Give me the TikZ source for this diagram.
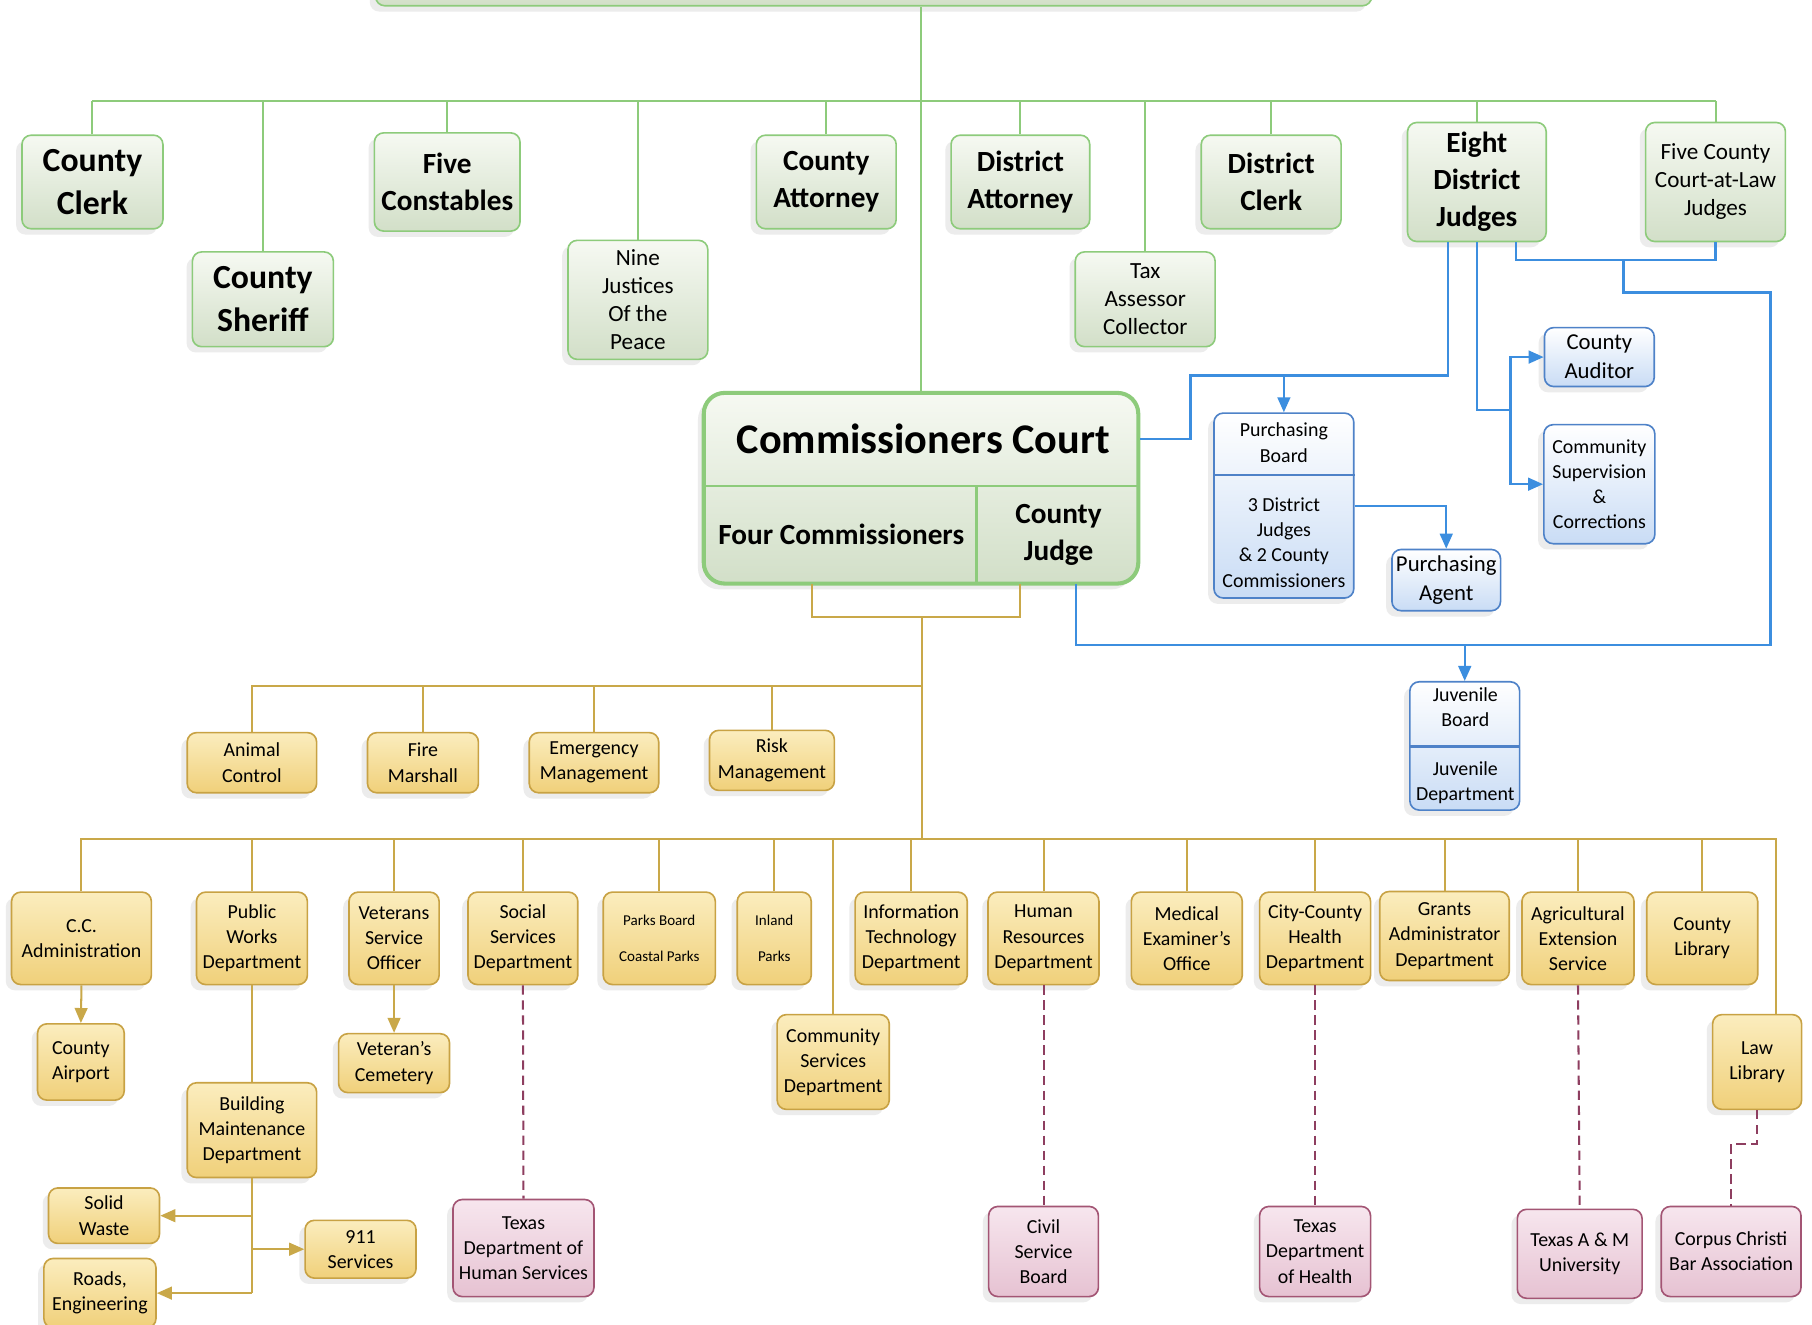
\documentclass[tikz,border=0pt]{standalone}
\usepackage{fontspec}
\setmainfont{Carlito}
\usepackage{xcolor}
\usepackage{tikz}
\usetikzlibrary{calc,arrows.meta,shadows}

\definecolor{cgline}{HTML}{8DCB7B}
\definecolor{cgtop}{HTML}{F6F9F2}
\definecolor{cgbot}{HTML}{D2DFC8}
\definecolor{cblue}{HTML}{3C8EDF}
\definecolor{cbedge}{HTML}{4E82C8}
\definecolor{cbbot}{HTML}{C9DCF5}
\definecolor{cgold}{HTML}{C9A849}
\definecolor{cytop}{HTML}{FBEDBE}
\definecolor{cybot}{HTML}{F0D07A}
\definecolor{cyedge}{HTML}{C8A244}
\definecolor{cmauve}{HTML}{8E3E60}
\definecolor{cptop}{HTML}{F7E6EE}
\definecolor{cpbot}{HTML}{E6C2D2}
\definecolor{cpedge}{HTML}{A35574}

\newcommand\ftitle{\fontsize{10.4}{12.5}\selectfont\bfseries}
\newcommand\fgbig{\fontsize{8.3}{10.5}\selectfont\bfseries}
\newcommand\fgmid{\fontsize{7.2}{9.1}\selectfont\bfseries}
\newcommand\fgsmall{\fontsize{5.7}{6.9}\selectfont}
\newcommand\fdept{\fontsize{4.9}{6.2}\selectfont}
\newcommand\fagent{\fontsize{5.6}{7.1}\selectfont}
\newcommand\ftiny{\fontsize{3.7}{9.1}\selectfont}

\begin{document}
\begin{tikzpicture}[x=0.1mm, y=-0.1mm,
  box/.style={rounded corners=0.8mm, align=center, inner sep=0.3mm, line width=0.4pt,
    drop shadow={shadow xshift=-0.5mm, shadow yshift=-0.5mm, opacity=0.15}},
  gbox/.style={box, draw=cgline, top color=cgtop, bottom color=cgbot, font=\fgmid},
  bbox/.style={box, draw=cbedge, top color=white, bottom color=cbbot, font=\fdept},
  ybox/.style={box, draw=cyedge, top color=cytop, bottom color=cybot, font=\fdept},
  pbox/.style={box, draw=cpedge, top color=cptop, bottom color=cpbot, font=\fdept},
  gline/.style={draw=cgline, line width=0.5pt},
  bline/.style={draw=cblue, line width=0.6pt},
  barrow/.style={bline, -{Triangle[length=1.3mm, width=1.1mm]}},
  yline/.style={draw=cgold, line width=0.5pt},
  yarrow/.style={yline, -{Triangle[length=1.3mm, width=1.1mm]}},
  pline/.style={draw=cmauve, line width=0.5pt, dash pattern=on 0.8mm off 0.5mm}]
  \path[use as bounding box, clip] (0,0) rectangle (1568,1146);
  \fill[white] (0,0) rectangle (1568,1146);

  \node[gbox, minimum width=86.2mm, minimum height=7mm] (topbox) at (756,-30) {};

  \node[gbox, font=\fgbig, minimum width=12.2mm, minimum height=8.1mm] (cclerk) at (80,157.5) {County\\Clerk};
  \node[gbox, font=\fgbig, minimum width=12.2mm, minimum height=8.2mm] (sheriff) at (227.5,259) {County\\Sheriff};
  \node[gbox, minimum width=12.6mm, minimum height=8.5mm] (constables) at (387,157.5) {Five\\Constables};
  \node[gbox, font=\fgsmall, minimum width=12.1mm, minimum height=10.3mm] (justices) at (552,259.5) {Nine\\Justices\\Of the\\Peace};
  \node[gbox, minimum width=12.1mm, minimum height=8.1mm] (cattorney) at (715,157.5) {County\\Attorney};
  \node[gbox, minimum width=12.0mm, minimum height=8.1mm] (dattorney) at (883,157.5) {District\\Attorney};
  \node[gbox, font=\fgsmall, minimum width=12.1mm, minimum height=8.2mm] (taxac) at (991,259) {Tax\\Assessor\\Collector};
  \node[gbox, minimum width=12.1mm, minimum height=8.1mm] (dclerk) at (1100,157.5) {District\\Clerk};
  \node[gbox, minimum width=12.0mm, minimum height=10.3mm] (djudges) at (1278,157.5) {Eight\\District\\Judges};
  \node[gbox, font=\fgsmall, minimum width=12.1mm, minimum height=10.3mm] (cljudges) at (1484.5,157.5) {Five County\\Court-at-Law\\Judges};

  \node[gbox, rounded corners=1.8mm, line width=1pt, minimum width=37.6mm, minimum height=16.5mm] (court) at (797,422.5) {};
  \node[font=\ftitle] (cctitle) at (799,380) {Commissioners Court};
  \draw[cgline, line width=0.6pt] (court.west |- 0,420.5) -- (court.east |- 0,420.5);
  \draw[cgline, line width=0.6pt] (845,420.5) -- (845,505);
  \node[font=\fgmid, minimum width=23.4mm, minimum height=8.4mm] (fourcom) at (728,462.5) {Four Commissioners};
  \node[font=\fgmid, align=center, minimum width=14.2mm, minimum height=8.4mm] (cjudge) at (916,462.5) {County\\Judge};

  \node[bbox, minimum width=12.1mm, minimum height=16mm] (pboard) at (1111,437.5) {};
  \draw[cbedge, line width=0.6pt] (pboard.west |- 0,411) -- (pboard.east |- 0,411);
  \node[font=\fdept, align=center] (pbtitle) at (1111,383) {Purchasing\\Board};
  \node[font=\fdept, align=center] (pbmembers) at (1111,469.5) {3 District\\Judges\\\& 2 County\\Commissioners};
  \node[bbox, font=\fagent, minimum width=9.4mm, minimum height=5.3mm] (pagent) at (1251.5,502) {Purchasing\\Agent};
  \node[bbox, font=\fagent, minimum width=9.5mm, minimum height=5.1mm] (auditor) at (1384,309) {County\\Auditor};
  \node[bbox, minimum width=9.6mm, minimum height=10.3mm] (csc) at (1384,419) {Community\\Supervision\\\&\\Corrections};
  \node[bbox, minimum width=9.5mm, minimum height=11.1mm] (jboard) at (1267.5,645.5) {};
  \draw[cbedge, line width=0.6pt] (jboard.west |- 0,646) -- (jboard.east |- 0,646);
  \node[font=\fdept, align=center] (jbtitle) at (1268,612) {Juvenile\\Board};
  \node[font=\fdept, align=center] (jdept) at (1268,677.5) {Juvenile\\Department};

  \node[ybox, minimum width=11.2mm, minimum height=5.2mm] (animal) at (218,660) {Animal\\Control};
  \node[ybox, minimum width=9.6mm, minimum height=5.2mm] (fire) at (366,660) {Fire\\Marshall};
  \node[ybox, minimum width=11.2mm, minimum height=5.2mm] (emerg) at (514,660) {Emergency\\Management};
  \node[ybox, minimum width=10.8mm, minimum height=5.2mm] (risk) at (668,658) {Risk\\Management};

  \node[ybox, minimum width=12.1mm, minimum height=8mm] (ccadmin) at (70.5,812) {C.C.\\Administration};
  \node[ybox, minimum width=9.6mm, minimum height=8mm] (pworks) at (218,812) {Public\\Works\\Department};
  \node[ybox, minimum width=7.8mm, minimum height=8mm] (veterans) at (341,812) {Veterans\\Service\\Officer};
  \node[ybox, minimum width=9.5mm, minimum height=8mm] (social) at (452.5,812) {Social\\Services\\Department};
  \node[ybox, font=\ftiny, minimum width=9.7mm, minimum height=8mm] (parks) at (570.5,812) {Parks Board\\Coastal Parks};
  \node[ybox, font=\ftiny, minimum width=6.4mm, minimum height=8mm] (inland) at (670,812) {Inland\\Parks};
  \node[ybox, minimum width=9.7mm, minimum height=8mm] (infotech) at (788.5,812) {Information\\Technology\\Department};
  \node[ybox, minimum width=9.6mm, minimum height=8mm] (hr) at (903,812) {Human\\Resources\\Department};
  \node[ybox, minimum width=9.6mm, minimum height=8mm] (medical) at (1027,812) {Medical\\Examiner's\\Office};
  \node[ybox, minimum width=9.6mm, minimum height=8mm] (health) at (1138,812) {City-County\\Health\\Department};
  \node[ybox, minimum width=11.2mm, minimum height=7.7mm] (grants) at (1250,810) {Grants\\Administrator\\Department};
  \node[ybox, minimum width=9.7mm, minimum height=8mm] (agri) at (1365.5,812) {Agricultural\\Extension\\Service};
  \node[ybox, minimum width=9.6mm, minimum height=8mm] (library) at (1473,812) {County\\Library};

  \node[ybox, minimum width=9.7mm, minimum height=8.2mm] (comserv) at (721,919) {Community\\Services\\Department};
  \node[ybox, minimum width=7.7mm, minimum height=8.2mm] (lawlib) at (1520.5,919) {Law\\Library};
  \node[ybox, minimum width=7.5mm, minimum height=6.6mm] (airport) at (70,919) {County\\Airport};
  \node[ybox, minimum width=9.6mm, minimum height=5.1mm] (cemetery) at (341,920) {Veteran's\\Cemetery};
  \node[ybox, minimum width=11.2mm, minimum height=8.2mm] (bmaint) at (218,978) {Building\\Maintenance\\Department};
  \node[ybox, minimum width=9.6mm, minimum height=4.8mm] (solid) at (90,1052) {Solid\\Waste};
  \node[ybox, minimum width=9.6mm, minimum height=5mm] (e911) at (312,1081) {911\\Services};
  \node[ybox, minimum width=9.7mm, minimum height=6mm] (roads) at (86.5,1119) {Roads,\\Engineering};

  \node[pbox, minimum width=12.2mm, minimum height=8.4mm] (txhhs) at (453,1080) {Texas\\Department of\\Human Services};
  \node[pbox, minimum width=9.5mm, minimum height=7.8mm] (civil) at (903,1083) {Civil\\Service\\Board};
  \node[pbox, minimum width=9.6mm, minimum height=7.8mm] (txhealth) at (1138,1083) {Texas\\Department\\of Health};
  \node[pbox, minimum width=10.8mm, minimum height=7.7mm] (tamu) at (1367,1085) {Texas A \& M\\University};
  \node[pbox, minimum width=12.1mm, minimum height=7.8mm] (ccbar) at (1498,1083) {Corpus Christi\\Bar Association};

  \coordinate (gbus) at (0,87.5);
  \draw[gline] (court.north) -- (court.north |- topbox.south);
  \draw[gline] (cclerk.north |- gbus) -- (cljudges.north |- gbus);
  \foreach \n in {cclerk,sheriff,constables,justices,cattorney,dattorney,taxac,dclerk,djudges,cljudges}
    \draw[gline] (\n.north) -- (\n.north |- gbus);

  \coordinate (pbtap) at ([xshift=-2.5mm]djudges.south);
  \coordinate (cltap) at ([xshift=3.4mm]djudges.south);
  \coordinate (cjout) at ([xshift=1.5mm]cjudge.south);
  \coordinate (jsplit) at (1307,355);
  \coordinate (jtap) at (1405,225);
  \coordinate (jbus) at (1532,558);
  \draw[bline] (court.east |- cctitle) -| (1030,325) -| (pbtap);
  \draw[barrow] (pboard.north |- 0,325) -- (pboard.north);
  \draw[barrow] (pboard.east |- 0,438) -| (pagent.north);
  \draw[bline] (djudges.south) |- (jsplit);
  \draw[barrow] (jsplit) |- (auditor.west);
  \draw[barrow] (jsplit) |- (csc.west);
  \draw[bline] (cltap) |- (cljudges.south |- jtap) -- (cljudges.south);
  \draw[bline] (jtap) |- (jbus |- 0,253) -- (jbus) -| (cjout);
  \draw[barrow] (jboard.north |- jbus) -- (jboard.north);

  \coordinate (fcout) at ([xshift=-2.5mm]fourcom.south);
  \coordinate (cjin) at ([xshift=-3.3mm]cjudge.south);
  \coordinate (ybus1) at (798,594);
  \coordinate (ybus2) at (798,726);
  \draw[yline] (fcout) -- ++(0,28.5) -| (cjin);
  \draw[yline] (798,533.5) -- (ybus2);
  \foreach \n in {animal,fire,emerg,risk}
    \draw[yline] (\n.north) |- (ybus1);
  \foreach \n in {ccadmin,pworks,veterans,social,parks,inland,comserv,infotech,hr,medical,health,grants,agri,library}
    \draw[yline] (\n.north) |- (ybus2);
  \draw[yline] ([xshift=1.65mm]lawlib.north) |- (ybus2);
  \draw[yarrow] (ccadmin.south) -- (airport.north);
  \draw[yarrow] (veterans.south) -- (cemetery.north);
  \draw[yline] (pworks.south) -- (bmaint.north);
  \draw[yline] (bmaint.south) -- (bmaint.south |- roads);
  \draw[yarrow] (bmaint.south |- solid) -- (solid.east);
  \draw[yarrow] (bmaint.south |- e911) -- (e911.west);
  \draw[yarrow] (bmaint.south |- roads) -- (roads.east);

  \draw[pline] (social.south) -- (txhhs.north);
  \draw[pline] (hr.south) -- (civil.north);
  \draw[pline] (health.south) -- (txhealth.north);
  \draw[pline] (agri.south) -- (tamu.north);
  \draw[pline] (lawlib.south) -- ++(0,29) -| (ccbar.north);
\end{tikzpicture}
\end{document}
